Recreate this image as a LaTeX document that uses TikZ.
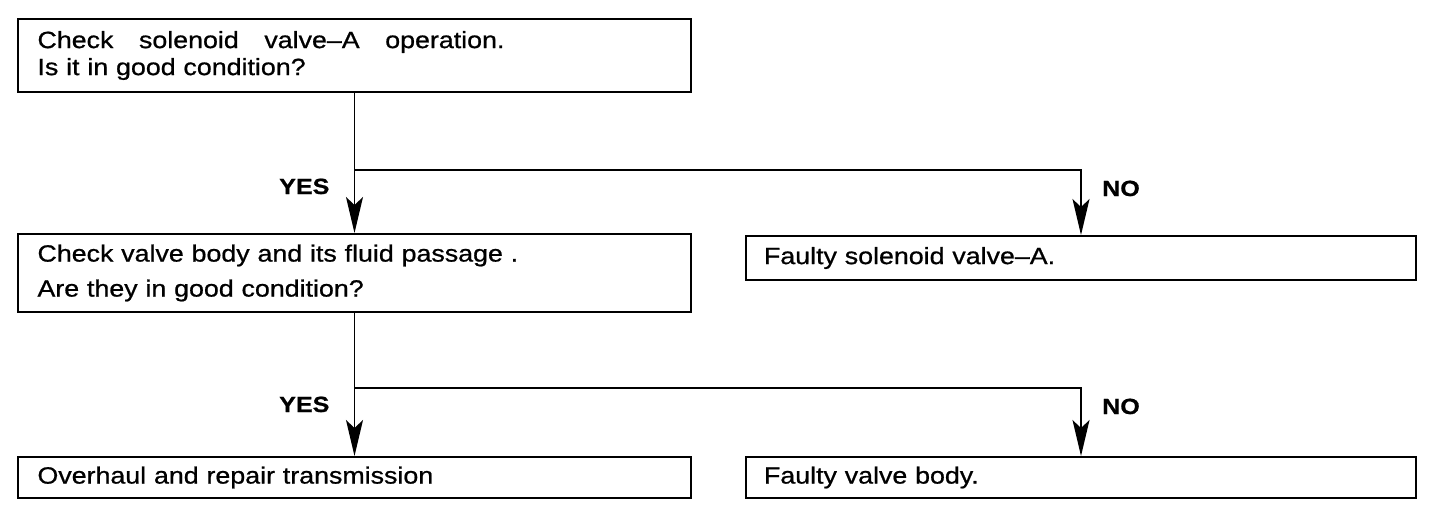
\documentclass[tikz,border=0pt]{standalone}
\usepackage{fontspec}
\setmainfont{Liberation Sans}[FakeStretch=1.14, FakeBold=0.8]
\usetikzlibrary{arrows.meta}
\begin{document}
\begin{tikzpicture}[x=1pt,y=-1pt,
  box/.style={draw, line width=2pt, anchor=north west, inner xsep=15pt, inner ysep=0pt,
    align=left, font=\fontsize{23.5}{27}\selectfont, text width=634pt},
  lab/.style={font=\fontsize{22}{27}\selectfont\bfseries, anchor=base west, inner sep=0pt},
  conn/.style={line width=1.5pt},
  arr/.style={conn, -{Stealth[length=36pt, width=17pt, inset=8pt]}}]
\useasboundingbox (0,0) rectangle (1456,528);
% boxes
\node[box, minimum width=673pt, minimum height=73pt] (b1) at (17,18)
  {\hbox to 467pt{Check\hfill solenoid\hfill valve–A\hfill operation.}\\Is it in good condition?};
\node[box, minimum width=673pt, minimum height=78pt, font=\fontsize{23.5}{35}\selectfont] (b2) at (17,233)
  {Check valve body and its fluid passage .\\Are they in good condition?};
\node[box, minimum width=670pt, minimum height=44pt] (b3) at (745,235)
  {Faulty solenoid valve–A.};
\node[box, minimum width=673pt, minimum height=41pt] (b4) at (17,456)
  {Overhaul and repair transmission};
\node[box, minimum width=670pt, minimum height=41pt] (b5) at (745,456)
  {Faulty valve body.};
% junctions
\path (b1.south) ++(0,77) coordinate (j1);
\path (b2.south) ++(0,75) coordinate (j2);
% connectors
\draw[arr] (b1.south) -- (b2.north);
\draw[arr] (j1) -| (b3.north);
\draw[arr] (b2.south) -- (b4.north);
\draw[arr] (j2) -| (b5.north);
% labels
\node[lab] (y1) at (279,194) {YES};
\node[lab] (n1) at (1102,196) {NO};
\node[lab] (y2) at (279,412) {YES};
\node[lab] (n2) at (1102,414) {NO};
\end{tikzpicture}
\end{document}
